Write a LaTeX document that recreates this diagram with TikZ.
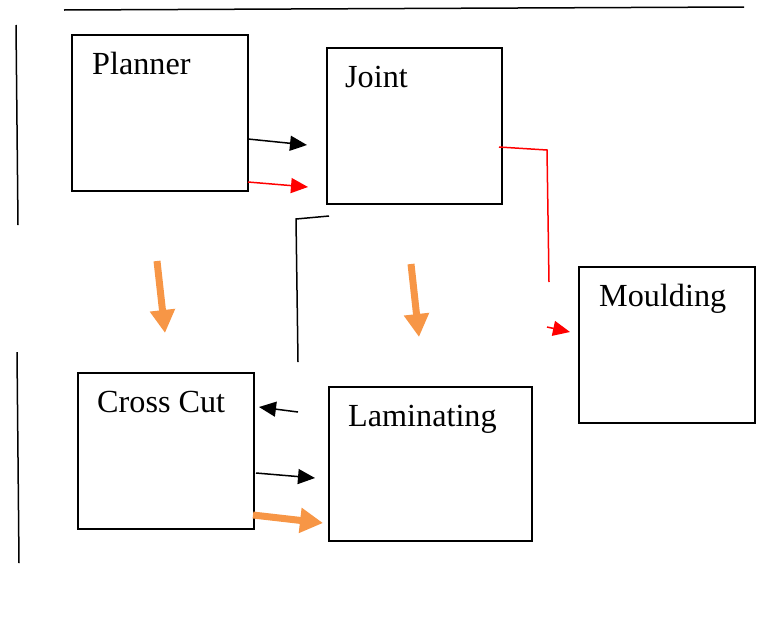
\documentclass[tikz,border=0pt]{standalone}
\usepackage{fontspec}
\setmainfont{Liberation Serif}
\usetikzlibrary{arrows.meta}
\definecolor{accorange}{RGB}{247,150,70}
\begin{document}
\begin{tikzpicture}[x=1pt,y=-1pt,
  box/.style={draw=black, line width=1.8pt, inner sep=0pt, anchor=north west},
  lbl/.style={inner sep=0pt, anchor=base west, font=\fontsize{32.2}{38}\selectfont},
  rule/.style={draw=black, line width=1.5pt},
  blk/.style={draw=black, line width=1.5pt, -{Triangle[length=17pt,width=15pt]}},
  redarr/.style={draw=red, line width=1.5pt, -{Triangle[length=17pt,width=15pt]}},
  redline/.style={draw=red, line width=1.5pt},
  orarr/.style={draw=accorange, line width=7pt, -{Triangle[length=23pt,width=24pt]}}
]
\useasboundingbox (0,0) rectangle (775,643);
% separator lines
\coordinate (t1) at (64,10); \coordinate (t2) at (744,7);
\draw[rule] (t1) -- (t2);
\coordinate (l1) at (16,25); \coordinate (l2) at (18,225);
\draw[rule] (l1) -- (l2);
\coordinate (l3) at (17,352); \coordinate (l4) at (19,563);
\draw[rule] (l3) -- (l4);
% boxes
\node[box, minimum width=176pt, minimum height=156pt] (planner) at (71,34) {};
\node[box, minimum width=175pt, minimum height=156pt] (joint) at (326,47) {};
\node[box, minimum width=176pt, minimum height=156pt] (moulding) at (578,266) {};
\node[box, minimum width=176pt, minimum height=156pt] (crosscut) at (77,372) {};
\node[box, minimum width=203pt, minimum height=154pt] (laminating) at (328,386) {};
% labels
\node[lbl] (tplanner) at (92,74) {Planner};
\node[lbl] (tjoint) at (345,87) {Joint};
\node[lbl] (tmoulding) at (599,306) {Moulding};
\node[lbl] (tcrosscut) at (97,412) {Cross Cut};
\node[lbl] (tlaminating) at (348,426) {Laminating};
% Planner -> Joint
\coordinate (a1s) at (248,139); \coordinate (a1e) at (307,145);
\draw[blk] (a1s) -- (a1e);
\coordinate (a2s) at (248,182); \coordinate (a2e) at (308,187);
\draw[redarr] (a2s) -- (a2e);
% Joint -> Moulding (red)
\coordinate (r1) at (499,147); \coordinate (r2) at (547,150); \coordinate (r3) at (549,282);
\draw[redline] (r1) -- (r2) -- (r3);
\coordinate (r4) at (547,327); \coordinate (r5) at (570,332);
\draw[redarr] (r4) -- (r5);
% bracket line
\coordinate (b1) at (329,216); \coordinate (b2) at (296,219); \coordinate (b3) at (298,362);
\draw[rule] (b1) -- (b2) -- (b3);
% orange down arrows
\coordinate (o1s) at (157,261); \coordinate (o1e) at (165,333);
\draw[orarr] (o1s) -- (o1e);
\coordinate (o2s) at (411,264); \coordinate (o2e) at (419,337);
\draw[orarr] (o2s) -- (o2e);
% Cross Cut <-> Laminating
\coordinate (c1s) at (298,412); \coordinate (c1e) at (259,407);
\draw[blk] (c1s) -- (c1e);
\coordinate (c2s) at (256,473); \coordinate (c2e) at (315,478);
\draw[blk] (c2s) -- (c2e);
\coordinate (c3s) at (253,515); \coordinate (c3e) at (323,523);
\draw[orarr] (c3s) -- (c3e);
\end{tikzpicture}
\end{document}
